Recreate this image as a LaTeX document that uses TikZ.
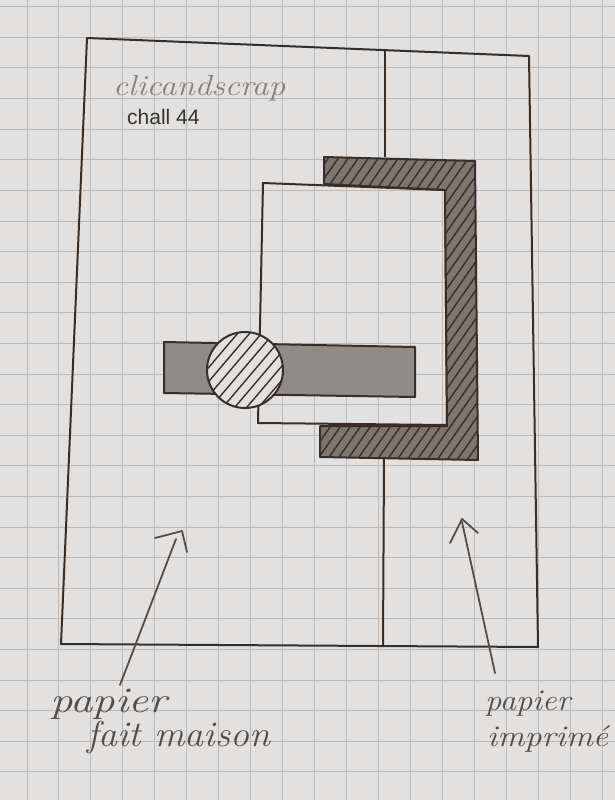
\documentclass[tikz,border=0pt]{standalone}
\usepackage{fontspec}
\usepackage{graphicx}
\newfontfamily\sansf{Liberation Sans}
\definecolor{paper}{HTML}{E2E1E0}
\definecolor{gridc}{HTML}{BAB9B9}
\definecolor{ink}{HTML}{3A2E24}
\definecolor{pencil}{HTML}{8F8B86}
\definecolor{pencildark}{HTML}{7C766F}
\definecolor{hand}{HTML}{574C42}
\definecolor{faint}{HTML}{85807B}
\definecolor{print}{HTML}{353330}
\begin{document}
\begin{tikzpicture}[x=1pt,y=-1pt,
  outline/.style={draw=ink, line width=2pt, line join=round},
  hatchline/.style={draw=ink, line width=1.4pt},
  gridline/.style={draw=gridc, line width=1pt},
  arrowline/.style={draw=hand, line width=1.8pt, line cap=round, line join=round},
  handtext/.style={text=hand, inner sep=0pt, anchor=base west},
]
\useasboundingbox (0,0) rectangle (615,800);
\fill[paper] (0,0) rectangle (615,800);
% squared paper
\foreach \k in {0,...,18} \draw[gridline] ({27+31.95*\k},0) -- ({27+31.95*\k},800);
\foreach \k in {-2,...,24} \draw[gridline] (0,{68+30.6*\k}) -- (615,{68+30.6*\k});

% outer frame
\coordinate (ftl) at (87,38);
\coordinate (ftr) at (529,56);
\coordinate (fbr) at (538,647);
\coordinate (fbl) at (61,644);
\draw[outline] (ftl) -- (ftr) -- (fbr) -- (fbl) -- cycle;

% divider
\coordinate (dtop) at (385,50);
\coordinate (dtopC) at (385,157);
\coordinate (dbotC) at (384,458);
\coordinate (dbot) at (383,646);
\draw[outline] (dtop) -- (dtopC);
\draw[outline] (dbotC) -- (dbot);

% inner white rectangle
\draw[outline] (263,183) -- (445,190) -- (447,425) -- (258,423) -- cycle;

% hatched C shape
\fill[pencildark] (324,157) -- (475,161) -- (478,460) -- (320,457) -- (320,426) -- (447,426) -- (445,190) -- (324,184) -- cycle;
\begin{scope}
  \clip (324,157) -- (475,161) -- (478,460) -- (320,457) -- (320,426) -- (447,426) -- (445,190) -- (324,184) -- cycle;
  \foreach \x in {90,100,...,480} \draw[hatchline] (\x,470) -- ++(231,-330);
\end{scope}
\draw[outline] (324,157) -- (475,161) -- (478,460) -- (320,457) -- (320,426) -- (447,426) -- (445,190) -- (324,184) -- cycle;

% grey bar
\draw[outline, fill=pencil] (164,342) -- (415,347) -- (415,397) -- (164,393) -- cycle;

% hatched circle
\fill[paper] (245,370) circle[radius=38pt];
\begin{scope}
  \clip (245,370) circle[radius=38pt];
  \foreach \x in {140,152,...,284} \draw[hatchline] (\x,420) -- ++(102,-120);
\end{scope}
\draw[outline] (245,370) circle[radius=38pt];

% titles
\node[text=faint, inner sep=0pt, anchor=base west] (brand) at (113,95)
  {\resizebox{172pt}{\height}{\fontsize{29}{29}\selectfont\itshape clicandscrap}};
\node[text=print, inner sep=0pt, anchor=base west] (chall) at (127,124)
  {\sansf\fontsize{21}{21}\selectfont chall 44};

% arrows
\coordinate (ltail) at (120,685);
\coordinate (lshaft) at (176,539);
\coordinate (lhead) at (182,531);
\coordinate (lw1) at (155,538);
\coordinate (lw2) at (187,552);
\draw[arrowline] (ltail) -- (lshaft);
\draw[arrowline] (lw1) -- (lhead) -- (lw2);

\coordinate (rtail) at (495,673);
\coordinate (rshaft) at (462,522);
\coordinate (rhead) at (462,519);
\coordinate (rw1) at (450,543);
\coordinate (rw2) at (478,533);
\draw[arrowline] (rtail) -- (rshaft);
\draw[arrowline] (rw1) -- (rhead) -- (rw2);

% labels
\node[handtext] (l1a) at (50,712)
  {\resizebox{117pt}{\height}{\fontsize{36}{36}\selectfont\itshape papier}};
\node[handtext] (l1b) at (87,746)
  {\resizebox{183pt}{\height}{\fontsize{36}{36}\selectfont\itshape fait maison}};
\node[handtext] (l2a) at (485,710)
  {\resizebox{85pt}{\height}{\fontsize{30}{30}\selectfont\itshape papier}};
\node[handtext] (l2b) at (487,746)
  {\resizebox{121pt}{\height}{\fontsize{30}{30}\selectfont\itshape imprimé}};
\end{tikzpicture}
\end{document}
